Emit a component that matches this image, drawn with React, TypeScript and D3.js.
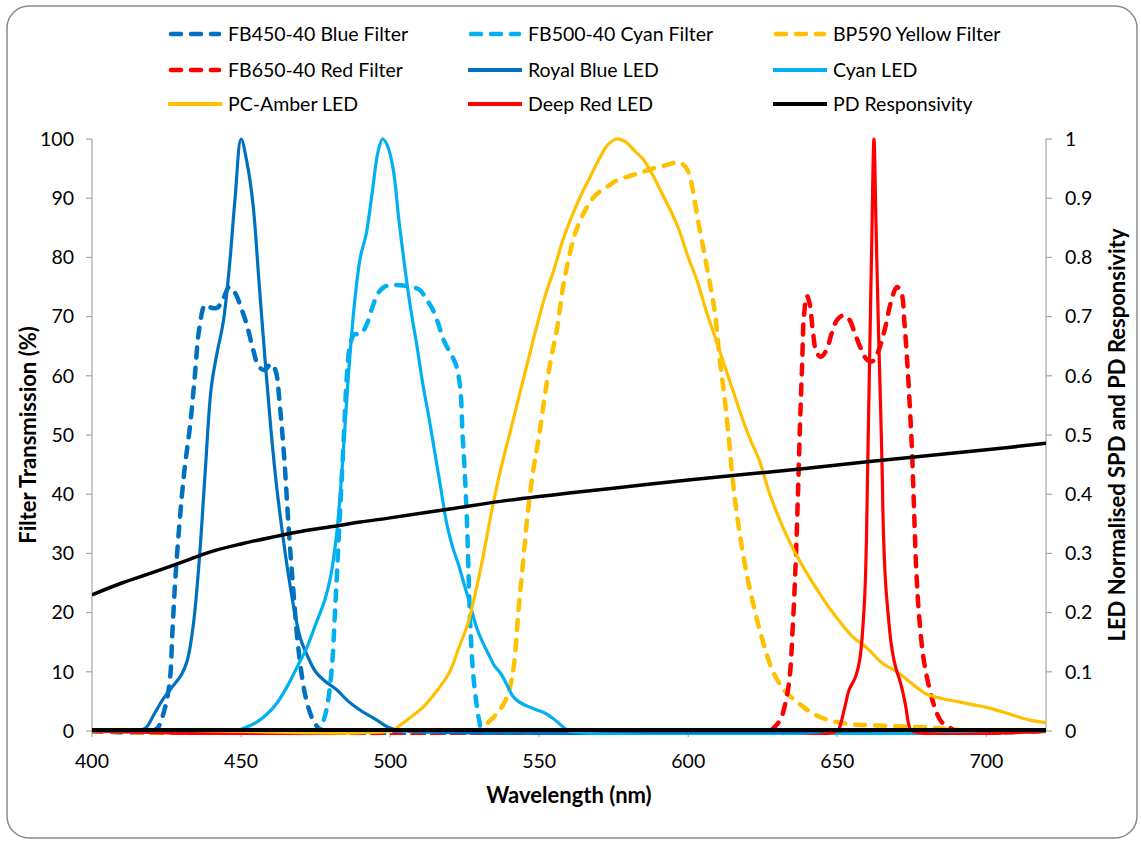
import React from 'react';
import * as d3 from 'd3';

type Pt = [number, number];

// ---------- data (wavelength nm, value) ----------
// Filters: transmission in % (left axis)
const fb450Blue: Pt[] = [
  [400, 0], [420, 0], [422, 0.5], [424, 3], [426, 8], [427, 17], [428, 26], [429.5, 36], [431, 44], [433, 52],
  [434.5, 60], [436, 68], [438, 72], [440, 71.5], [442, 71.5], [444, 73], [446, 75], [448, 74], [450, 71.5],
  [452, 68.5], [454, 64.5], [456, 61.5], [458, 61], [460, 62], [461.5, 61], [463, 55], [464.5, 46], [466, 34],
  [467.5, 24], [469, 15], [470.5, 9], [472, 5], [474, 2], [476, 0.5], [478, 0], [720, 0],
];
const fb500Cyan: Pt[] = [
  [400, 0], [476, 0], [477.5, 1.5], [479, 4.5], [480.5, 11], [481.5, 20], [482.5, 30], [483.5, 40], [484.5, 50],
  [485.5, 60], [486.5, 65], [488, 67], [490, 67], [492, 68.5], [494, 71.5], [496, 74], [498, 75], [500, 75.3],
  [505, 75.2], [510, 74.5], [512, 73], [514, 71.5], [516, 69], [518, 66], [520, 64], [522, 62], [523.5, 58],
  [524.3, 50], [525, 44], [525.8, 35], [526.8, 19], [527.8, 10], [529, 4.5], [530, 1.5], [531, 0], [720, 0],
];
const bp590Yellow: Pt[] = [
  [400, 0], [530, 0], [532, 1], [535, 2.5], [538, 4.5], [540, 7], [541.5, 11], [543, 20], [544.5, 28], [546, 36],
  [548, 44], [550, 50], [552, 57], [554, 63], [556, 68], [558, 75], [560, 80], [562, 84], [564, 86.5], [566, 88.5],
  [568, 90], [570, 91], [573, 92], [576, 93], [580, 93.7], [584, 94.3], [588, 95], [592, 95.5], [596, 96],
  [598, 95.8], [600, 94.5], [601.5, 91.5], [603, 87], [604.5, 83], [606, 79], [607.5, 75], [609, 70.5],
  [610.5, 63], [612, 57], [613.5, 50], [615, 42], [616.5, 36], [618, 31], [620, 25.5], [622, 21], [624, 17],
  [626, 13.5], [628, 10.5], [630, 8.5], [632, 7], [635, 5.5], [638, 4.3], [641, 3.2], [645, 2.2], [650, 1.5],
  [655, 1.1], [660, 1], [670, 0.8], [680, 0.6], [690, 0.2], [695, 0], [720, 0],
];
const fb650Red: Pt[] = [
  [400, 0], [627, 0], [629, 0.7], [631, 2], [632.5, 4.5], [634, 9], [635, 17], [636, 28], [636.8, 40], [637.5, 52],
  [638.2, 62], [638.8, 70], [639.8, 73.5], [640.8, 72], [641.8, 67.5], [643, 64], [644.5, 63.2], [646.5, 64.5],
  [648, 67], [650, 69.5], [652, 70.2], [654, 69.5], [656, 67], [658, 64.5], [660, 62.7], [662, 62.5], [664, 64.5],
  [666, 68], [668, 72.5], [670, 75], [671.5, 74], [672.5, 69], [673.5, 62], [674.3, 55], [675, 48], [675.7, 38],
  [676.5, 27], [677.5, 19], [679, 12], [681, 7], [683, 3.5], [685, 1.5], [688, 0.5], [690, 0], [720, 0],
];

// LEDs + photodiode: normalised (right axis, 0..1)
const royalBlueLed: Pt[] = [
  [400, 0], [415, 0], [418, 0.005], [421, 0.03], [424, 0.055], [427, 0.075], [430, 0.095], [432, 0.12],
  [434, 0.18], [436, 0.29], [438, 0.44], [440, 0.58], [442, 0.64], [444, 0.69], [446, 0.78], [448, 0.9],
  [450, 1.0], [452, 0.96], [454, 0.89], [456, 0.76], [458, 0.63], [460, 0.51], [462, 0.41], [464, 0.33],
  [466, 0.26], [468, 0.2], [470, 0.155], [472, 0.13], [475, 0.1], [478, 0.085], [482, 0.07], [486, 0.05],
  [490, 0.035], [495, 0.02], [500, 0.005], [505, 0], [720, 0],
];
const cyanLed: Pt[] = [
  [400, 0], [448, 0], [451, 0.005], [455, 0.014], [459, 0.03], [462, 0.047], [466, 0.08], [469, 0.11],
  [472, 0.14], [475, 0.18], [478, 0.22], [480, 0.26], [482, 0.33], [484, 0.45], [486, 0.6], [488, 0.72],
  [490, 0.8], [492, 0.84], [494, 0.91], [496, 0.98], [497.5, 1.0], [499, 0.99], [501, 0.95], [503, 0.86],
  [505, 0.78], [507, 0.71], [509, 0.65], [511, 0.585], [513, 0.53], [515, 0.47], [517, 0.41], [519, 0.35],
  [521, 0.31], [523, 0.28], [525, 0.245], [527, 0.21], [529, 0.175], [531, 0.15], [533, 0.13], [535, 0.11],
  [537, 0.098], [539, 0.08], [541, 0.06], [543, 0.05], [546, 0.042], [549, 0.036], [552, 0.03], [555, 0.02],
  [558, 0.007], [560, 0], [720, 0],
];
const pcAmberLed: Pt[] = [
  [400, 0], [500, 0], [502, 0.005], [506, 0.02], [511, 0.04], [516, 0.07], [520, 0.1], [523, 0.14], [526, 0.18],
  [528, 0.22], [531, 0.29], [534, 0.37], [537, 0.44], [540, 0.5], [543, 0.56], [546, 0.62], [549, 0.68],
  [552, 0.735], [555, 0.78], [558, 0.83], [561, 0.87], [564, 0.905], [567, 0.935], [570, 0.965], [573, 0.99],
  [576, 1.0], [579, 0.995], [582, 0.98], [585, 0.965], [588, 0.94], [591, 0.91], [594, 0.88], [597, 0.845],
  [600, 0.8], [603, 0.76], [606, 0.71], [609, 0.665], [612, 0.62], [615, 0.575], [618, 0.53], [621, 0.49],
  [624, 0.455], [627, 0.405], [630, 0.365], [633, 0.33], [636, 0.3], [640, 0.265], [645, 0.225], [650, 0.19],
  [655, 0.16], [660, 0.14], [665, 0.115], [670, 0.1], [675, 0.08], [680, 0.062], [685, 0.055], [690, 0.05],
  [695, 0.045], [700, 0.04], [705, 0.033], [710, 0.025], [715, 0.018], [720, 0.014],
];
const deepRedLed: Pt[] = [
  [400, 0], [650, 0], [651, 0.01], [652.5, 0.04], [654, 0.07], [656, 0.09], [657.5, 0.12], [658.5, 0.17],
  [659.3, 0.24], [659.8, 0.33], [660.2, 0.45], [660.8, 0.62], [661.5, 0.81], [662.3, 1.0], [663, 0.85],
  [663.8, 0.68], [664.5, 0.55], [665, 0.45], [665.5, 0.33], [666.2, 0.25], [667, 0.2], [668, 0.15], [669, 0.12],
  [670, 0.1], [671, 0.085], [672, 0.065], [673, 0.04], [674, 0.01], [675, 0], [720, 0],
];
const pdResponsivity: Pt[] = [
  [400, 0.23], [410, 0.25], [420, 0.267], [430, 0.285], [440, 0.303], [450, 0.316], [460, 0.327], [470, 0.337],
  [480, 0.345], [490, 0.353], [500, 0.36], [520, 0.375], [540, 0.39], [560, 0.402], [580, 0.413], [600, 0.424],
  [620, 0.434], [640, 0.444], [660, 0.455], [680, 0.465], [700, 0.475], [720, 0.486],
];

const xTicks = [400, 450, 500, 550, 600, 650, 700];
const leftTicks = [0, 10, 20, 30, 40, 50, 60, 70, 80, 90, 100];
const rightTicks = [0, 0.1, 0.2, 0.3, 0.4, 0.5, 0.6, 0.7, 0.8, 0.9, 1];

const xTitle = 'Wavelength (nm)';
const leftTitle = 'Filter Transmission (%)';
const rightTitle = 'LED Normalised SPD and PD Responsivity';

type Series = { name: string; data: Pt[]; color: string; dashed: boolean; axis: 'left' | 'right' };
const series: Series[] = [
  { name: 'FB450-40 Blue Filter', data: fb450Blue, color: '#0070C0', dashed: true, axis: 'left' },
  { name: 'FB500-40 Cyan Filter', data: fb500Cyan, color: '#00B0F0', dashed: true, axis: 'left' },
  { name: 'BP590 Yellow Filter', data: bp590Yellow, color: '#FFC000', dashed: true, axis: 'left' },
  { name: 'FB650-40 Red Filter', data: fb650Red, color: '#FF0000', dashed: true, axis: 'left' },
  { name: 'Royal Blue LED', data: royalBlueLed, color: '#0070C0', dashed: false, axis: 'right' },
  { name: 'Cyan LED', data: cyanLed, color: '#00B0F0', dashed: false, axis: 'right' },
  { name: 'PC-Amber LED', data: pcAmberLed, color: '#FFC000', dashed: false, axis: 'right' },
  { name: 'Deep Red LED', data: deepRedLed, color: '#FF0000', dashed: false, axis: 'right' },
  { name: 'PD Responsivity', data: pdResponsivity, color: '#000000', dashed: false, axis: 'right' },
];

const W = 1141;
const H = 843;
const M = { left: 92, right: 1046, top: 139, bottom: 731 };
const FONT = 'Lato, "Open Sans", sans-serif';
const AXIS_GREY = '#A6A6A6';

export default function App() {
  const x = d3.scaleLinear().domain([400, 720]).range([M.left, M.right]);
  const yL = d3.scaleLinear().domain([0, 100]).range([M.bottom, M.top]);
  const yR = d3.scaleLinear().domain([0, 1]).range([M.bottom, M.top]);

  const lineFor = (s: Series) =>
    d3
      .line<Pt>()
      .x((d) => x(d[0]))
      .y((d) => (s.axis === 'left' ? yL(d[1]) : yR(d[1])))
      .curve(d3.curveCatmullRom.alpha(0.5))(s.data) || '';

  const legendCols = [168, 468, 773];
  const legendRows = [34, 70, 104];
  const dash = '10 10';

  const midY = (M.top + M.bottom) / 2;

  return (
    <svg
      width={W}
      height={H}
      style={{ position: 'absolute', left: 0, top: 0, display: 'block', background: '#fff' }}
      fontFamily={FONT}
    >
      <defs>
        <clipPath id="plotClip">
          <rect x={M.left} y={M.top - 10} width={M.right - M.left} height={M.bottom - M.top + 14} />
        </clipPath>
      </defs>
      <rect x={7} y={6} width={1130} height={832} rx={22} ry={22} fill="#fff" stroke="#8C8C8C" strokeWidth={1.5} />

      {/* legend */}
      {series.map((s, i) => {
        const cx = legendCols[i % 3];
        const cy = legendRows[Math.floor(i / 3)];
        return (
          <g key={s.name}>
            <line
              x1={cx + (s.dashed ? 3 : 0)}
              x2={cx + (s.dashed ? 51 : 54)}
              y1={cy}
              y2={cy}
              stroke={s.color}
              strokeWidth={s.dashed ? 4.5 : 4}
              strokeDasharray={s.dashed ? dash : undefined}
              strokeLinecap={s.dashed ? 'round' : 'butt'}
            />
            <text x={cx + 60} y={cy} dy="0.35em" fontSize={19.5} fill="#000">
              {s.name}
            </text>
          </g>
        );
      })}

      {/* axes */}
      <line x1={M.left} x2={M.left} y1={M.top} y2={M.bottom} stroke={AXIS_GREY} strokeWidth={1.2} />
      <line x1={M.right} x2={M.right} y1={M.top} y2={M.bottom} stroke={AXIS_GREY} strokeWidth={1.2} />
      {leftTicks.map((t) => (
        <g key={'l' + t}>
          <line x1={M.left - 6} x2={M.left} y1={yL(t)} y2={yL(t)} stroke={AXIS_GREY} strokeWidth={1.2} />
          <text x={M.left - 18} y={yL(t)} dy="0.35em" textAnchor="end" fontSize={19.5} fill="#000">
            {t}
          </text>
        </g>
      ))}
      {rightTicks.map((t) => (
        <g key={'r' + t}>
          <line x1={M.right} x2={M.right + 6} y1={yR(t)} y2={yR(t)} stroke={AXIS_GREY} strokeWidth={1.2} />
          <text x={M.right + 19} y={yR(t)} dy="0.35em" textAnchor="start" fontSize={19.5} fill="#000">
            {d3.format('~g')(t)}
          </text>
        </g>
      ))}
      {xTicks.map((t) => (
        <g key={'x' + t}>
          <line x1={x(t)} x2={x(t)} y1={M.bottom} y2={M.bottom + 6} stroke={AXIS_GREY} strokeWidth={1.2} />
          <text x={x(t)} y={M.bottom + 30} dy="0.35em" textAnchor="middle" fontSize={19.5} fill="#000">
            {t}
          </text>
        </g>
      ))}

      {/* series */}
      <g fill="none" clipPath="url(#plotClip)">
        {series.map((s) => (
          <path
            key={s.name}
            d={lineFor(s)}
            stroke={s.color}
            strokeWidth={s.dashed ? 4.5 : s.color === '#000000' ? 3.5 : 3.2}
            strokeDasharray={s.dashed ? dash : undefined}
            strokeLinecap={s.dashed ? 'round' : 'butt'}
            strokeLinejoin="round"
          />
        ))}
      </g>
      {/* baseline */}
      <line x1={x(400)} x2={x(720)} y1={yL(0) - 1} y2={yL(0) - 1} stroke="#000" strokeWidth={4} />

      {/* titles */}
      <text x={(M.left + M.right) / 2} y={795} dy="0.35em" textAnchor="middle" fontSize={22} fontWeight="bold">
        {xTitle}
      </text>
      <text
        transform={`translate(28,${midY}) rotate(-90)`}
        dy="0.35em"
        textAnchor="middle"
        fontSize={22}
        fontWeight="bold"
      >
        {leftTitle}
      </text>
      <text
        transform={`translate(1117,${midY}) rotate(-90)`}
        dy="0.35em"
        textAnchor="middle"
        fontSize={22}
        fontWeight="bold"
      >
        {rightTitle}
      </text>
    </svg>
  );
}
